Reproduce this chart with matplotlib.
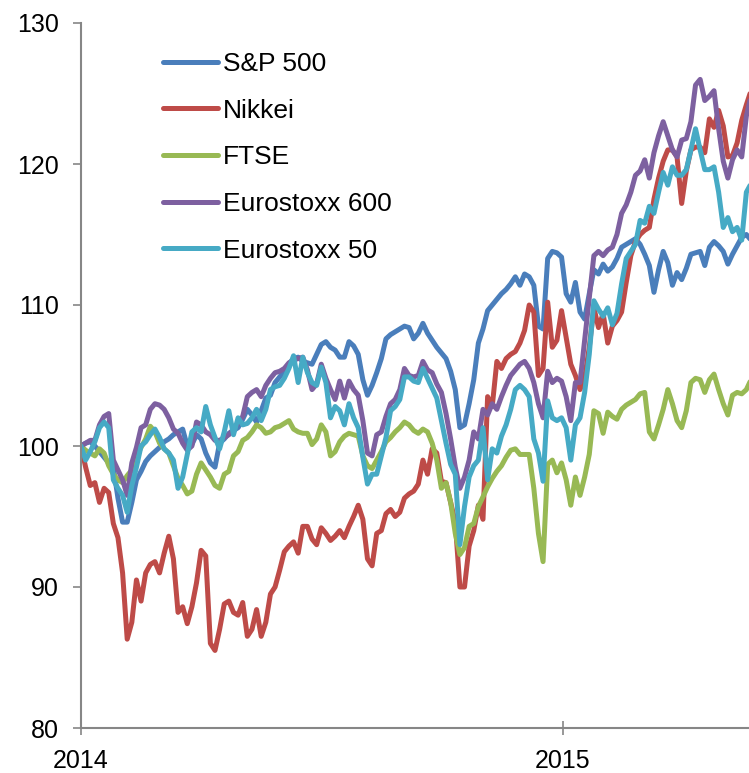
import matplotlib
matplotlib.use("Agg")
import matplotlib.pyplot as plt
import pandas as pd

# Readings on Wednesdays (weekly) and on the half-week in between (Saturday noon)
dates_a = pd.date_range("2014-01-01", periods=74, freq="7D")
dates_b = pd.date_range("2014-01-04 12:00", periods=73, freq="7D")

sp500_a = [100.0, 100.3, 99.6, 98.8, 96.3, 94.6, 97.6, 98.9, 99.6, 100.3,
           100.8, 101.2, 100.1, 100.5, 98.8, 100.2, 100.9, 101.3, 102.6, 101.7,
           103.4, 104.5, 105.3, 106.2, 106.0, 105.8, 107.2, 107.0, 106.3, 107.4,
           106.5, 103.6, 105.2, 107.6, 108.1, 108.5, 107.6, 108.7, 107.5, 106.6,
           105.3, 101.3, 103.0, 107.3, 109.6, 110.4, 111.1, 112.0, 112.2, 111.4,
           108.3, 113.8, 113.4, 110.2, 109.5, 110.8, 112.2, 112.4, 113.3, 114.3,
           114.7, 113.6, 110.9, 113.8, 111.4, 111.8, 113.6, 113.8, 114.1, 114.2,
           112.9, 114.2, 115.0, 114.5]
sp500_b = [100.2, 100.0, 99.2, 98.5, 94.6, 96.0, 98.2, 99.3, 99.9, 100.5,
           101.0, 100.0, 100.8, 99.5, 98.5, 100.5, 101.1, 101.9, 102.2, 102.5,
           103.6, 104.9, 105.8, 106.3, 105.9, 106.5, 107.4, 106.8, 106.3, 107.1,
           104.7, 104.3, 106.2, 107.9, 108.3, 108.4, 108.0, 108.0, 107.0, 106.2,
           104.0, 101.5, 104.7, 108.3, 110.0, 110.8, 111.5, 111.4, 112.0, 108.5,
           113.3, 113.7, 110.8, 111.6, 109.0, 112.5, 112.9, 112.7, 114.1, 114.5,
           114.3, 112.8, 112.5, 113.0, 112.3, 112.6, 113.7, 112.8, 114.5, 113.8,
           113.6, 114.8, 114.6]

nikkei_a = [100.0, 97.2, 96.0, 96.7, 93.5, 86.3, 90.5, 91.0, 91.8, 92.4,
            92.0, 88.6, 88.6, 92.6, 86.0, 87.0, 89.0, 88.0, 86.5, 88.4,
            87.5, 90.0, 92.5, 93.2, 94.3, 93.4, 94.2, 93.3, 94.0, 94.3,
            95.8, 92.0, 93.8, 95.2, 95.0, 96.3, 96.8, 99.0, 99.8, 97.5,
            96.0, 90.0, 92.9, 95.8, 103.5, 106.0, 106.2, 106.7, 108.2, 109.5,
            105.5, 107.0, 109.6, 105.8, 104.0, 107.0, 108.4, 107.3, 108.9, 111.6,
            114.5, 115.3, 117.5, 120.2, 121.0, 117.2, 121.0, 121.2, 123.2, 123.8,
            120.5, 121.5, 124.2, 125.8]
nikkei_b = [98.5, 97.4, 97.0, 94.5, 91.0, 87.5, 89.0, 91.6, 91.0, 93.6,
            88.2, 87.4, 90.3, 92.2, 85.5, 88.8, 88.2, 88.9, 87.0, 86.5,
            89.5, 91.2, 92.9, 92.4, 94.3, 93.0, 93.8, 93.6, 93.5, 95.0,
            94.8, 91.5, 94.0, 95.5, 95.3, 96.6, 97.3, 98.0, 99.5, 97.4,
            94.6, 90.0, 94.0, 94.8, 102.8, 105.5, 106.5, 107.3, 110.0, 105.0,
            110.2, 107.5, 107.7, 105.0, 104.8, 109.8, 109.4, 108.5, 109.5, 113.5,
            115.0, 115.5, 119.0, 121.0, 120.5, 119.5, 121.2, 120.8, 122.6, 122.7,
            120.6, 123.1, 125.2]

ftse_a = [100.0, 99.5, 99.8, 98.6, 97.6, 97.9, 99.3, 100.5, 101.0, 99.8,
          98.6, 97.2, 96.8, 98.8, 97.8, 97.0, 98.2, 99.6, 100.6, 101.5,
          100.9, 101.3, 101.6, 101.2, 100.9, 100.1, 101.5, 99.3, 100.3, 100.9,
          100.7, 98.6, 99.0, 100.3, 101.0, 101.7, 101.1, 101.2, 100.2, 97.0,
          96.0, 92.3, 94.3, 95.7, 97.1, 98.2, 99.2, 99.8, 99.4, 97.0,
          91.8, 99.0, 98.8, 95.8, 96.5, 99.4, 102.3, 102.4, 101.9, 102.9,
          103.3, 103.8, 100.5, 102.6, 103.0, 101.3, 104.5, 104.7, 104.7, 104.0,
          102.2, 103.8, 104.0, 104.5]
ftse_b = [99.7, 99.3, 99.5, 98.0, 97.4, 98.3, 99.9, 101.4, 100.2, 99.5,
          97.7, 96.6, 98.0, 98.3, 97.2, 98.0, 99.3, 100.4, 101.0, 101.3,
          101.0, 101.4, 101.8, 101.0, 100.9, 100.5, 101.0, 99.6, 100.7, 100.8,
          99.3, 98.4, 99.6, 100.6, 101.3, 101.5, 100.9, 101.0, 99.0, 97.4,
          93.8, 92.8, 94.5, 96.4, 97.7, 98.6, 99.7, 99.4, 99.4, 93.8,
          98.7, 98.1, 97.6, 97.8, 97.8, 102.5, 100.9, 102.1, 102.6, 103.1,
          103.7, 101.0, 101.5, 104.0, 101.8, 102.5, 104.8, 103.8, 105.1, 103.0,
          103.6, 103.7, 104.7]

eurostoxx600_a = [100.0, 100.4, 101.5, 102.3, 98.3, 96.5, 99.9, 101.5, 103.0, 102.6,
                  101.2, 100.2, 100.0, 101.5, 100.8, 100.4, 100.8, 101.6, 103.5, 104.0,
                  104.3, 105.2, 105.5, 106.1, 106.3, 104.0, 105.8, 104.0, 104.6, 104.6,
                  103.6, 99.5, 100.8, 102.1, 103.3, 105.5, 104.9, 106.0, 105.2, 103.8,
                  100.5, 97.0, 99.0, 100.5, 102.2, 102.6, 104.3, 105.4, 106.0, 104.5,
                  102.0, 104.5, 104.6, 101.8, 104.5, 110.5, 113.8, 113.9, 115.0, 117.1,
                  119.2, 120.3, 120.8, 123.0, 121.0, 121.7, 123.0, 126.0, 124.8, 122.5,
                  119.0, 121.0, 123.4, 124.8]
eurostoxx600_b = [100.2, 100.4, 102.1, 99.0, 97.6, 98.8, 101.3, 102.6, 102.9, 102.0,
                  100.9, 99.7, 101.7, 101.0, 100.4, 100.6, 101.2, 102.1, 103.8, 103.5,
                  104.8, 105.3, 105.9, 106.2, 105.4, 104.4, 104.8, 103.3, 103.4, 104.0,
                  101.8, 99.3, 101.0, 103.0, 104.0, 105.0, 105.0, 105.4, 104.4, 102.3,
                  98.5, 97.8, 101.0, 102.6, 103.0, 103.5, 105.0, 105.8, 105.5, 103.0,
                  105.3, 104.8, 103.5, 104.5, 107.5, 113.5, 113.5, 114.1, 116.5, 118.0,
                  119.5, 119.0, 122.0, 122.0, 120.5, 121.8, 125.6, 124.5, 125.2, 120.2,
                  120.3, 120.5, 124.8]

eurostoxx50_a = [100.0, 99.6, 101.3, 101.3, 97.0, 95.3, 98.5, 100.3, 101.2, 99.8,
                 99.0, 97.8, 101.0, 101.0, 101.5, 99.8, 102.5, 102.0, 101.6, 102.6,
                 102.6, 104.2, 104.8, 106.4, 106.3, 104.5, 105.6, 102.0, 102.5, 103.0,
                 101.3, 97.3, 98.0, 100.6, 102.8, 104.9, 104.6, 105.5, 104.1, 101.8,
                 98.7, 93.0, 97.8, 99.0, 97.6, 99.5, 101.5, 104.0, 104.0, 100.5,
                 97.5, 102.0, 102.0, 99.0, 102.0, 106.5, 109.7, 109.8, 109.4, 113.3,
                 114.3, 115.8, 116.5, 119.4, 119.8, 119.2, 121.0, 121.0, 119.6, 118.0,
                 116.2, 115.5, 118.0, 118.5]
eurostoxx50_b = [99.0, 100.3, 101.7, 97.6, 96.5, 97.2, 100.0, 100.8, 100.6, 99.5,
                 97.0, 99.4, 101.3, 102.8, 100.6, 101.0, 100.8, 101.5, 102.0, 101.8,
                 104.0, 104.3, 105.5, 104.5, 105.2, 104.3, 104.5, 102.8, 101.5, 102.0,
                 99.2, 98.0, 99.3, 102.5, 103.3, 104.9, 104.5, 104.8, 103.4, 100.2,
                 98.0, 95.7, 98.6, 101.3, 99.8, 100.7, 102.6, 104.3, 103.5, 99.5,
                 103.2, 101.8, 101.3, 101.5, 103.8, 110.3, 109.2, 108.6, 111.5, 113.8,
                 116.0, 117.0, 118.0, 118.5, 119.2, 119.6, 122.5, 119.6, 119.8, 115.5,
                 115.2, 114.6, 118.6]

series_names = ["S&P 500", "Nikkei", "FTSE", "Eurostoxx 600", "Eurostoxx 50"]
series_a = [sp500_a, nikkei_a, ftse_a, eurostoxx600_a, eurostoxx50_a]
series_b = [sp500_b, nikkei_b, ftse_b, eurostoxx600_b, eurostoxx50_b]
colors = ["#4a7ebb", "#be4b48", "#98b954", "#7d60a0", "#46aac5"]

y_ticks = [80, 90, 100, 110, 120, 130]
x_tick_labels = ["2014", "2015"]

plt.rcParams["font.family"] = ["Liberation Sans", "DejaVu Sans"]

fig = plt.figure(figsize=(7.49, 7.73), dpi=100)
ax = fig.add_axes([81 / 749, 1 - 728 / 773, 1 - 81 / 749, (728 - 23) / 773])

for name, va, vb, c in zip(series_names, series_a, series_b, colors):
    s = pd.concat([pd.Series(va, index=dates_a), pd.Series(vb, index=dates_b)]).sort_index()
    ax.plot(s.index, s.values, color=c, lw=3.6, label=name,
            solid_joinstyle="round", solid_capstyle="round")

ax.set_ylim(80, 130)
ax.set_yticks(y_ticks)
ax.set_xlim(pd.Timestamp("2014-01-01"), pd.Timestamp("2015-05-22"))
ax.set_xticks([pd.Timestamp("2014-01-01"), pd.Timestamp("2015-01-01")])
ax.set_xticklabels(x_tick_labels)

for sp in ["top", "right"]:
    ax.spines[sp].set_visible(False)
for sp in ["left", "bottom"]:
    ax.spines[sp].set_color("#868686")
    ax.spines[sp].set_linewidth(1.5)

ax.tick_params(axis="y", direction="out", length=6, width=1.2, color="#868686",
               labelsize=18, pad=10)
ax.tick_params(axis="x", direction="inout", length=10, width=1.2, color="#868686",
               labelsize=18, pad=10)

ax.legend(loc="upper left", bbox_to_anchor=(0.107, 0.974), frameon=False,
          fontsize=19, handlelength=2.08, handletextpad=0.19,
          labelspacing=0.86, borderaxespad=0)

fig.savefig("out.png", dpi=100)
